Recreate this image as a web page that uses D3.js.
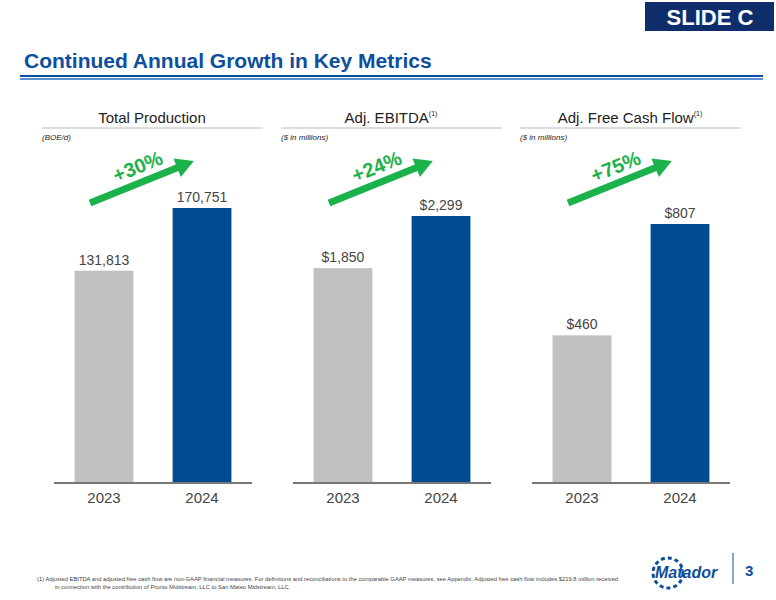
<!DOCTYPE html>
<html><head><meta charset="utf-8">
<script src="https://cdn.jsdelivr.net/npm/d3@7"></script>
<style>body{margin:0;background:#fff;font-family:Arial,"Liberation Sans",sans-serif}</style>
</head><body><div class="container"></div>
<script>
const WIDTH = 776, HEIGHT = 600;
const BASE = 483;
const years = ["2023", "2024"];
const titles = ["Total Production", "Adj. EBITDA", "Adj. Free Cash Flow"];
const notes = [false, true, true];
const units = ["(BOE/d)", "($ in millions)", "($ in millions)"];
const production = [131813, 170751];
const ebitda = [1850, 2299];
const fcf = [460, 807];
const labels = [["131,813", "170,751"], ["$1,850", "$2,299"], ["$460", "$807"]];
const growth = ["+30%", "+24%", "+75%"];
const series = [production, ebitda, fcf];
const panelX = [42, 281, 520];
const topY = [208, 216, 224];

var svg = d3.select('.container').append('svg').attr('width', WIDTH).attr('height', HEIGHT);

svg.append('rect').attr('x', 645).attr('y', 2).attr('width', 129).attr('height', 29).attr('fill', '#0f2d6b');
svg.append('text').attr('x', 710).attr('y', 25).attr('text-anchor', 'middle').attr('fill', '#fff')
  .attr('font-size', 22).attr('font-weight', 'bold').text('SLIDE C');
svg.append('text').attr('x', 24).attr('y', 68).attr('fill', '#0d4f9c').attr('font-size', 21)
  .attr('font-weight', 'bold').text('Continued Annual Growth in Key Metrics');
svg.append('rect').attr('x', 20).attr('y', 75).attr('width', 743).attr('height', 2).attr('fill', '#0d4f9c');
svg.append('rect').attr('x', 20).attr('y', 78).attr('width', 743).attr('height', 2).attr('fill', '#5b8fd0');

series.forEach(function (vals, p) {
  var x0 = panelX[p];
  var g = svg.append('g').attr('transform', 'translate(' + x0 + ',0)');
  var t = g.append('text').attr('x', 110).attr('y', 123).attr('text-anchor', 'middle')
    .attr('font-size', 15).attr('fill', '#222').text(titles[p]);
  if (notes[p]) t.append('tspan').attr('font-size', 7).attr('dy', -7).text('(1)');
  g.append('line').attr('x1', 0).attr('x2', 221).attr('y1', 128).attr('y2', 128).attr('stroke', '#bbb');
  g.append('text').attr('x', 0).attr('y', 140).attr('font-size', 8).attr('font-style', 'italic')
    .attr('fill', '#222').text(units[p]);

  var x = d3.scaleBand().domain(years).range([12, 210]).paddingInner(0.4).paddingOuter(0.21);
  var y = d3.scaleLinear().domain([0, d3.max(vals)]).range([BASE, topY[p]]);
  g.selectAll('rect.bar').data(vals).enter().append('rect')
    .attr('x', function (d, i) { return x(years[i]); })
    .attr('y', function (d) { return y(d); })
    .attr('width', x.bandwidth())
    .attr('height', function (d) { return BASE - y(d); })
    .attr('fill', function (d, i) { return i ? '#004b91' : '#c0c0c0'; });
  g.selectAll('text.val').data(vals).enter().append('text')
    .attr('x', function (d, i) { return x(years[i]) + x.bandwidth() / 2; })
    .attr('y', function (d) { return y(d) - 6; })
    .attr('text-anchor', 'middle').attr('font-size', 14).attr('fill', '#444')
    .text(function (d, i) { return labels[p][i]; });
  var ax = g.append('g').attr('transform', 'translate(0,' + BASE + ')')
    .call(d3.axisBottom(x).tickSize(0).tickPadding(9));
  ax.select('.domain').attr('stroke', '#777').attr('stroke-width', 2).attr('d', 'M12,0H210');
  ax.selectAll('text').attr('font-size', 15).attr('fill', '#444').attr('font-family', 'Arial,"Liberation Sans",sans-serif');

  // growth arrow
  var a = g.append('g').attr('transform', 'translate(48,203) rotate(-22)');
  a.append('path').attr('d', 'M0,-3.5H94V-10L112,0L94,10V3.5H0Z').attr('fill', '#1bb24b');
  a.append('text').attr('x', 32).attr('y', -9).attr('font-size', 20).attr('font-weight', 'bold')
    .attr('fill', '#1bb24b').text(growth[p]);
});

svg.append('text').attr('x', 37).attr('y', 581).attr('font-size', 5.8).attr('fill', '#444')
  .text('(1)      Adjusted EBITDA and adjusted free cash flow are non-GAAP financial measures. For definitions and reconciliations to the comparable GAAP measures, see Appendix. Adjusted free cash flow includes $219.8 million received');
svg.append('text').attr('x', 55).attr('y', 589).attr('font-size', 5.8).attr('fill', '#444')
  .text('in connection with the contribution of Pronto Midstream, LLC to San Mateo Midstream, LLC.');
svg.append('circle').attr('cx', 668).attr('cy', 573).attr('r', 15).attr('fill', 'none')
  .attr('stroke', '#0d4f9c').attr('stroke-width', 3).attr('stroke-dasharray', '4 3');
svg.append('text').attr('x', 655).attr('y', 578).attr('font-size', 16).attr('font-weight', 'bold')
  .attr('font-style', 'italic').attr('fill', '#0d4f9c').text('Matador');
svg.append('line').attr('x1', 733).attr('x2', 733).attr('y1', 553).attr('y2', 584).attr('stroke', '#0d4f9c');
svg.append('text').attr('x', 745).attr('y', 576).attr('font-size', 15).attr('font-weight', 'bold')
  .attr('fill', '#0d4f9c').text('3');
</script></body></html>
